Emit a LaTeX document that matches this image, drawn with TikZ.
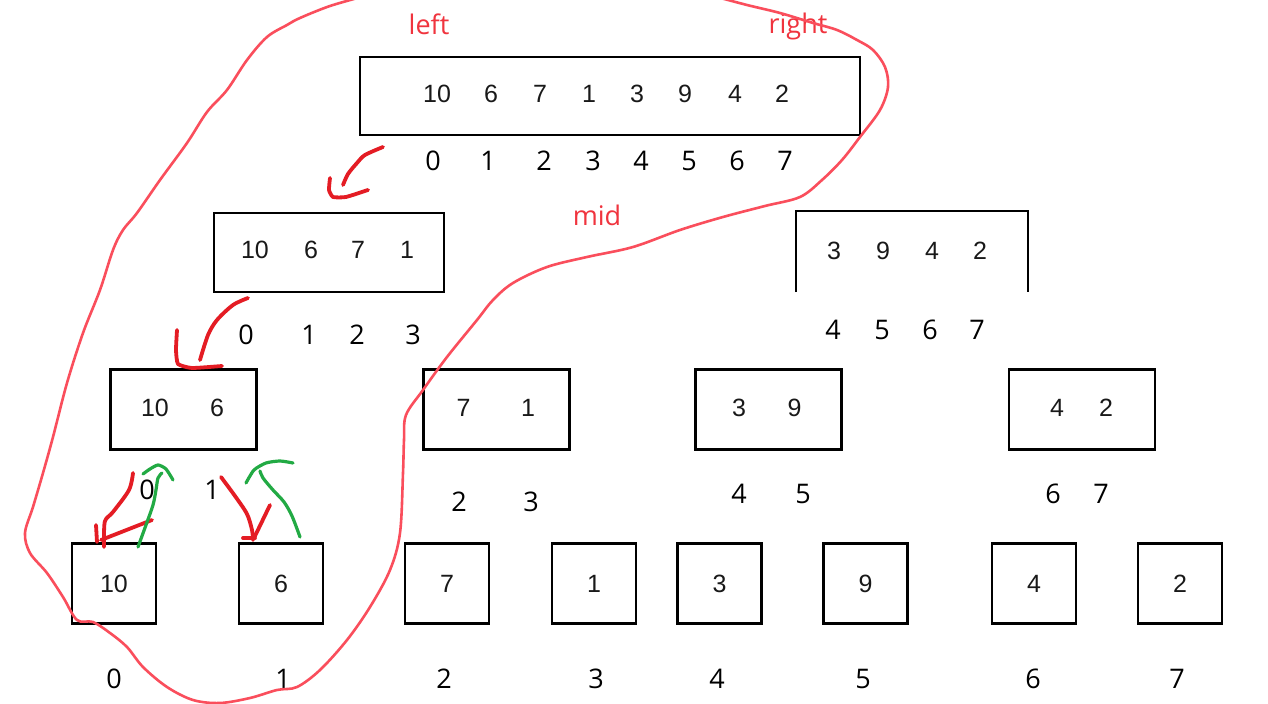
\documentclass[tikz,border=0pt]{standalone}
\usepackage{fontspec}
\setmainfont{Open Sans}
\newfontfamily\valfont{Liberation Sans}
\usetikzlibrary{positioning}
\definecolor{lassored}{RGB}{250,78,92}
\definecolor{penred}{RGB}{228,28,36}
\definecolor{pengreen}{RGB}{34,170,68}
\definecolor{tagred}{RGB}{240,52,62}

\begin{document}
\begin{tikzpicture}[
  x=0.5pt, y=-0.5pt,
  cell/.style={draw=black, line width=1.1pt, inner sep=0pt, minimum height=40pt},
  whole/.style={cell, minimum width=250pt, minimum height=39pt},
  half/.style={cell, minimum width=115pt, minimum height=39.5pt},
  quart/.style={cell, minimum width=73pt},
  leaf/.style={cell, minimum width=42pt, font=\valfont\fontsize{12.5}{14}\selectfont, text=black!90},
  val/.style={font=\valfont\fontsize{12.5}{14}\selectfont, text=black!90},
  idx/.style={font=\fontsize{13.5}{15}\selectfont},
  tag/.style={font=\fontsize{13.5}{15}\selectfont, text=tagred, anchor=base},
  lasso/.style={draw=lassored, line width=1.3pt, line cap=round, line join=round},
  fwdpen/.style={draw=penred, line width=1.9pt, line cap=round, line join=round},
  retpen/.style={draw=pengreen, line width=1.6pt, line cap=round, line join=round}
]
\useasboundingbox[fill=white] (0,0) rectangle (1268,704);
\clip (0,0) rectangle (1268,704);

\node[whole] (full) at (610,96) {};
\node[half] (half0) at (329,252.5) {};
\node[half, draw=none] (half1) at (912,251.5) {};
\draw[line width=1.1pt] (half1.south west) |- (half1.north east) -- (half1.south east);

\foreach \x/\n [count=\i from 0] in {183.5/0,496.5/1,768.5/2,1082/3}
  \node[quart] (quart\n) at (\x,409.5) {};
\foreach \x/\v [count=\i from 0] in {114/10,281/6,447/7,594/1,719.5/3,865.5/9,1034/4,1180/2}
  \node[leaf] (leaf\i) at (\x,583.5) {\v};

\foreach \x/\v in {437/10,491/6,540/7,589/1,637/3,685/9,735/4,782/2}
  \node[val] at (\x,94) {\v};
\foreach \x/\v in {255/10,311/6,358/7,407/1}
  \node[val] at (\x,250) {\v};
\foreach \x/\v in {834/3,883/9,932/4,980/2}
  \node[val] at (\x,251) {\v};
\foreach \x/\v in {155/10,217/6,463.5/7,528/1,739/3,794.5/9,1057/4,1106/2}
  \node[val] at (\x,408) {\v};

\foreach \x/\n in {433/0,488/1,544/2,593/3,641/4,689/5,737/6,785/7}
  \node[idx] at (\x,161) {\n};
\foreach \x/\n in {246/0,309/1,357/2,413/3}
  \node[idx] at (\x,335) {\n};
\foreach \x/\n in {833/4,882/5,930/6,977/7}
  \node[idx] at (\x,330) {\n};
\foreach \x/\y/\n in {147/490/0,212/490/1,459/502/2,531/502/3,739/494/4,803/494/5,1053/494/6,1101/494/7}
  \node[idx] at (\x,\y) {\n};
\foreach \x/\n in {114/0,283/1,444/2,596/3,717/4,863/5,1033/6,1177/7}
  \node[idx] at (\x,679) {\n};

\node[tag] (left) at (429,35) {left};
\node[tag] (right) at (798,34) {right};
\node[tag] (mid) at (597,226) {mid};

\draw[lasso] plot[smooth, tension=0.55] coordinates {
  (365,-4) (330,6) (300,18) (287,25) (267,37) (247,60) (227,90) (207,112)
  (187,143) (160,180) (137,213) (123,230) (113,250) (100,290) (83,333)
  (67,383) (53,437) (43,473) (33,507) (25,533) (30,553) (47,573) (63,597)
  (77,620) (93,622) (110,633) (127,647) (143,667) (167,687) (193,700)
  (220,703) (250,698) (277,690) (297,687) (320,670) (347,640) (370,607)
  (390,570) (400,533) (403,473) (404,440) (406,415) (423,390) (447,357)
  (477,320) (493,300) (513,283) (547,267) (587,257) (633,247) (680,230)
  (723,217) (765,206) (800,197) (822,180) (842,160) (860,137) (880,110)
  (888,87) (885,67) (873,50) (857,40) (837,30) (813,23) (780,13) (747,5)
  (713,-4)};

\draw[fwdpen] plot[smooth] coordinates {(383,147) (365,155) (357,163) (348,174) (343,185)};
\draw[fwdpen] plot[smooth, tension=0.3] coordinates {(330,178) (329,190) (333,197) (346,197) (368,190)};
\draw[fwdpen] plot[smooth] coordinates {(248,298) (233,305) (217,320) (208,335) (200,360)};
\draw[fwdpen] plot[smooth, tension=0.3] coordinates {(177,330) (176,350) (178,364) (192,368) (222,366)};

\draw[fwdpen] plot[smooth] coordinates {(133,473) (129,490) (113,512) (105,521) (104,540) (104,547)};
\draw[fwdpen] (96,525) -- (97,542);
\draw[fwdpen] (152,520) -- (101,540);
\draw[retpen] plot[smooth] coordinates {(138,547) (146,525) (153,505) (156,490) (158,478) (162,473)};
\draw[retpen] plot[smooth, tension=0.4] coordinates {(143,474) (150,469) (158,465) (166,469) (173,480)};

\draw[fwdpen] plot[smooth] coordinates {(221,477) (235,496) (247,514) (252,530) (253,540)};
\draw[fwdpen] (243,538) -- (255,538);
\draw[fwdpen] (270,505) -- (255,536);
\draw[retpen] plot[smooth] coordinates {(300,537) (292,516) (284,502) (273,490) (263,478) (260,471)};
\draw[retpen] plot[smooth, tension=0.4] coordinates {(246,483) (254,470) (266,463) (280,461) (293,463)};
\end{tikzpicture}
\end{document}
